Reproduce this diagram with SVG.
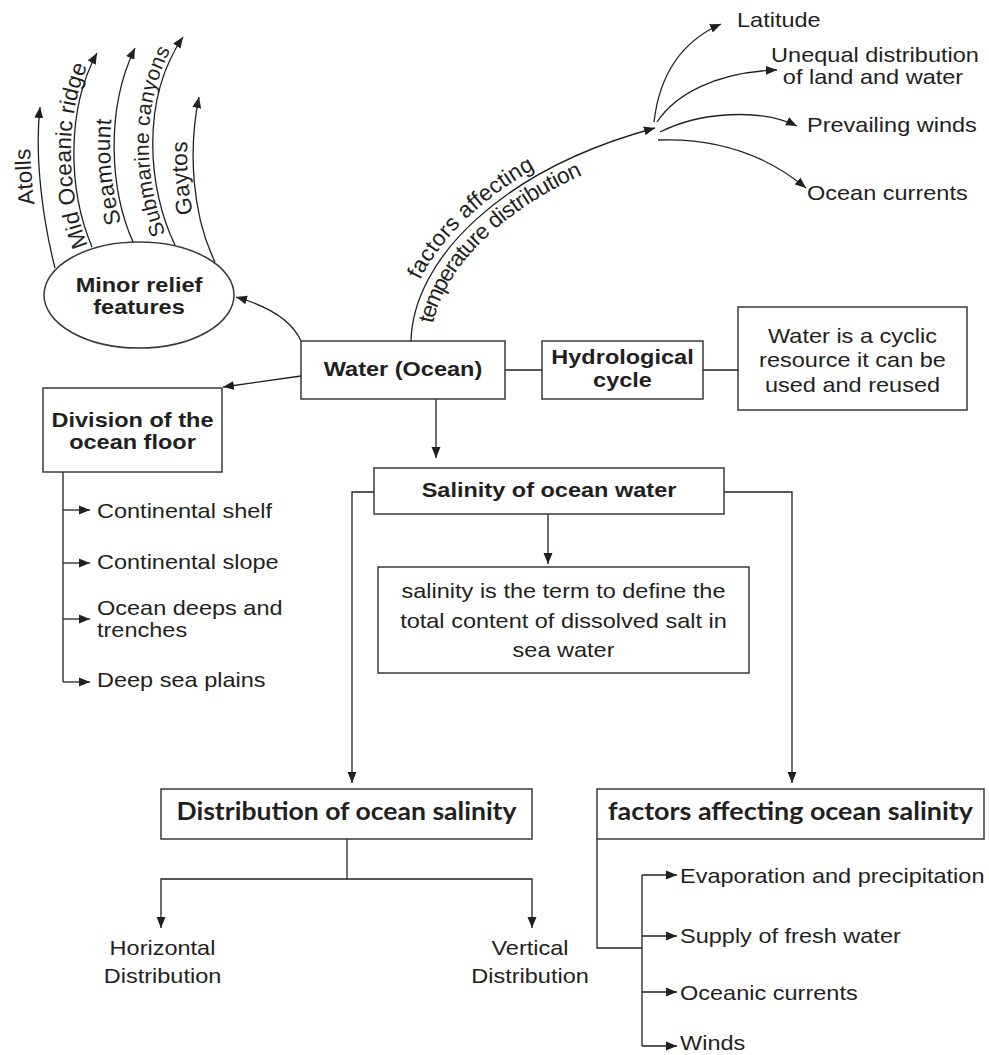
<svg xmlns="http://www.w3.org/2000/svg" width="989" height="1055" viewBox="0 0 989 1055">
<defs>
<style>
.t{font-family:"Liberation Sans",Arial,Helvetica,sans-serif;font-size:21px;fill:#231f20}
.b{font-weight:bold}
.m{text-anchor:middle}
.c{font-family:"Liberation Sans",Arial,Helvetica,sans-serif;font-size:22.5px;fill:#231f20}
.h{font-family:Lato,"Liberation Sans",sans-serif;font-weight:bold;font-size:25px;fill:#231f20;text-anchor:middle}
.box{fill:#fff;stroke:#3a3a3a;stroke-width:1.5}
.ln{fill:none;stroke:#231f20;stroke-width:1.3}
.ar{marker-end:url(#ah)}
</style>
<marker id="ah" markerUnits="userSpaceOnUse" markerWidth="12" markerHeight="10" refX="11" refY="5" orient="auto"><path d="M0,0.5 L11,5 L0,9.5 z" fill="#231f20"/></marker>
</defs>
<rect width="989" height="1055" fill="#fff"/>

<g id="connectors">
<path class="ln ar" d="M301,341 Q288,312 236,297"/>
<path class="ln ar" d="M301,376 L223,387"/>
<path class="ln" d="M505,370 H542"/>
<path class="ln" d="M703,370 H738"/>
<path class="ln ar" d="M436,399 V458"/>
<path class="ln ar" d="M548,514 V564"/>
<path class="ln ar" d="M374,492 H352 V783"/>
<path class="ln ar" d="M724,492 H792 V783"/>
<path class="ln" d="M347,839 V879"/>
<path class="ln ar" d="M347,879 H161 V928"/>
<path class="ln ar" d="M347,879 H532 V928"/>
<path class="ln" d="M597,839 V948 H642"/>
<path class="ln" d="M642,875 V1046"/>
<path class="ln ar" d="M642,875 H677"/>
<path class="ln ar" d="M642,936 H677"/>
<path class="ln ar" d="M642,992 H677"/>
<path class="ln ar" d="M642,1046 H677"/>
<path class="ln" d="M63,472 V682"/>
<path class="ln ar" d="M63,510 H90"/>
<path class="ln ar" d="M63,563 H90"/>
<path class="ln ar" d="M63,619 H90"/>
<path class="ln ar" d="M63,682 H90"/>
<path id="pA" class="ln ar" d="M55,268 C44,225 34,160 40,107"/>
<path id="pM" class="ln ar" d="M92,247 C68,190 66,110 97,53"/>
<path id="pS" class="ln ar" d="M133,242 C110,190 105,110 135,48"/>
<path id="pC" class="ln ar" d="M175,245 C148,190 140,100 183,37"/>
<path id="pG" class="ln ar" d="M215,262 C192,215 188,150 199,97"/>
<path id="pT" class="ln ar" d="M411,341 C413,260 500,170 655,128"/>
<path class="ln ar" d="M654,122 C660,70 685,40 721,24"/>
<path class="ln ar" d="M657,122 C675,95 715,72 777,70"/>
<path class="ln ar" d="M660,132 C700,112 760,108 797,126"/>
<path class="ln ar" d="M658,140 C710,138 760,150 806,188"/>
<text class="c" dy="-8"><textPath href="#pA" startOffset="66">Atolls</textPath></text>
<text class="c" dy="-3"><textPath href="#pM" startOffset="3">Mid Oceanic ridge</textPath></text>
<text class="c" dy="-4"><textPath href="#pS" startOffset="22">Seamount</textPath></text>
<text class="c" style="font-size:21px" dy="-4"><textPath href="#pC" startOffset="14">Submarine canyons</textPath></text>
<text class="c" dy="-6"><textPath href="#pG" startOffset="52">Gaytos</textPath></text>
<text class="c" dy="-7"><textPath href="#pT" startOffset="60">factors affecting</textPath></text>
<text class="c" dy="20"><textPath href="#pT" startOffset="22">temperature distribution</textPath></text>
</g>

<g id="minor-relief">
<ellipse class="box" cx="139" cy="295" rx="95" ry="53"/>
<text class="t b m" transform="translate(139,292) scale(1.12,1)">Minor relief</text>
<text class="t b m" transform="translate(139,314) scale(1.12,1)">features</text>
</g>

<g id="water">
<rect class="box" x="301" y="341" width="204" height="58"/>
<text class="t b m" transform="translate(403,376) scale(1.12,1)">Water (Ocean)</text>
</g>

<g id="hydro">
<rect class="box" x="542" y="341" width="161" height="58"/>
<text class="t b m" transform="translate(622.5,364) scale(1.12,1)">Hydrological</text>
<text class="t b m" transform="translate(622.5,387) scale(1.12,1)">cycle</text>
</g>

<g id="cyclic">
<rect class="box" x="738" y="307" width="229" height="103"/>
<text class="t m" transform="translate(852.5,343) scale(1.12,1)">Water is a cyclic</text>
<text class="t m" transform="translate(852.5,367) scale(1.12,1)">resource it can be</text>
<text class="t m" transform="translate(852.5,392) scale(1.12,1)">used and reused</text>
</g>

<g id="division">
<rect class="box" x="43" y="388" width="179" height="84"/>
<text class="t b m" transform="translate(132.5,427) scale(1.12,1)">Division of the</text>
<text class="t b m" transform="translate(132.5,449) scale(1.12,1)">ocean floor</text>
</g>

<g id="shelf"><text class="t" transform="translate(97,518) scale(1.12,1)">Continental shelf</text></g>
<g id="slope"><text class="t" transform="translate(97,569) scale(1.12,1)">Continental slope</text></g>
<g id="deeps"><text class="t" transform="translate(97,615) scale(1.12,1)">Ocean deeps and</text><text class="t" transform="translate(97,637) scale(1.12,1)">trenches</text></g>
<g id="plains"><text class="t" transform="translate(97,687) scale(1.12,1)">Deep sea plains</text></g>

<g id="salinity">
<rect class="box" x="374" y="468" width="350" height="46"/>
<text class="t b m" transform="translate(549,497) scale(1.12,1)">Salinity of ocean water</text>
</g>

<g id="definition">
<rect class="box" x="378" y="567" width="371" height="106"/>
<text class="t m" transform="translate(563.5,598) scale(1.12,1)">salinity is the term to define the</text>
<text class="t m" transform="translate(563.5,628) scale(1.12,1)">total content of dissolved salt in</text>
<text class="t m" transform="translate(563.5,657) scale(1.12,1)">sea water</text>
</g>

<g id="distribution">
<rect class="box" x="161" y="789" width="371" height="50"/>
<text class="h" x="346.5" y="820" textLength="340" lengthAdjust="spacingAndGlyphs">Distribution of ocean salinity</text>
</g>

<g id="factors-salinity">
<rect class="box" x="597" y="789" width="387" height="50"/>
<text class="h" x="790.5" y="820" textLength="365" lengthAdjust="spacingAndGlyphs">factors affecting ocean salinity</text>
</g>

<g id="horizontal">
<text class="t m" transform="translate(162.5,955) scale(1.12,1)">Horizontal</text>
<text class="t m" transform="translate(162.5,983) scale(1.12,1)">Distribution</text>
</g>
<g id="vertical">
<text class="t m" transform="translate(530,955) scale(1.12,1)">Vertical</text>
<text class="t m" transform="translate(530,983) scale(1.12,1)">Distribution</text>
</g>

<g id="evaporation"><text class="t" transform="translate(680,883) scale(1.12,1)">Evaporation and precipitation</text></g>
<g id="supply"><text class="t" transform="translate(680,943) scale(1.12,1)">Supply of fresh water</text></g>
<g id="oceanic"><text class="t" transform="translate(680,1000) scale(1.12,1)">Oceanic currents</text></g>
<g id="winds"><text class="t" transform="translate(680,1050) scale(1.12,1)">Winds</text></g>

<g id="latitude"><text class="t" transform="translate(737,27) scale(1.12,1)">Latitude</text></g>
<g id="unequal">
<text class="t m" transform="translate(875,62) scale(1.12,1)">Unequal distribution</text>
<text class="t m" transform="translate(873,84) scale(1.12,1)">of land and water</text>
</g>
<g id="winds-prevailing"><text class="t" transform="translate(807,132) scale(1.12,1)">Prevailing winds</text></g>
<g id="currents"><text class="t" transform="translate(807,200) scale(1.12,1)">Ocean currents</text></g>
</svg>
